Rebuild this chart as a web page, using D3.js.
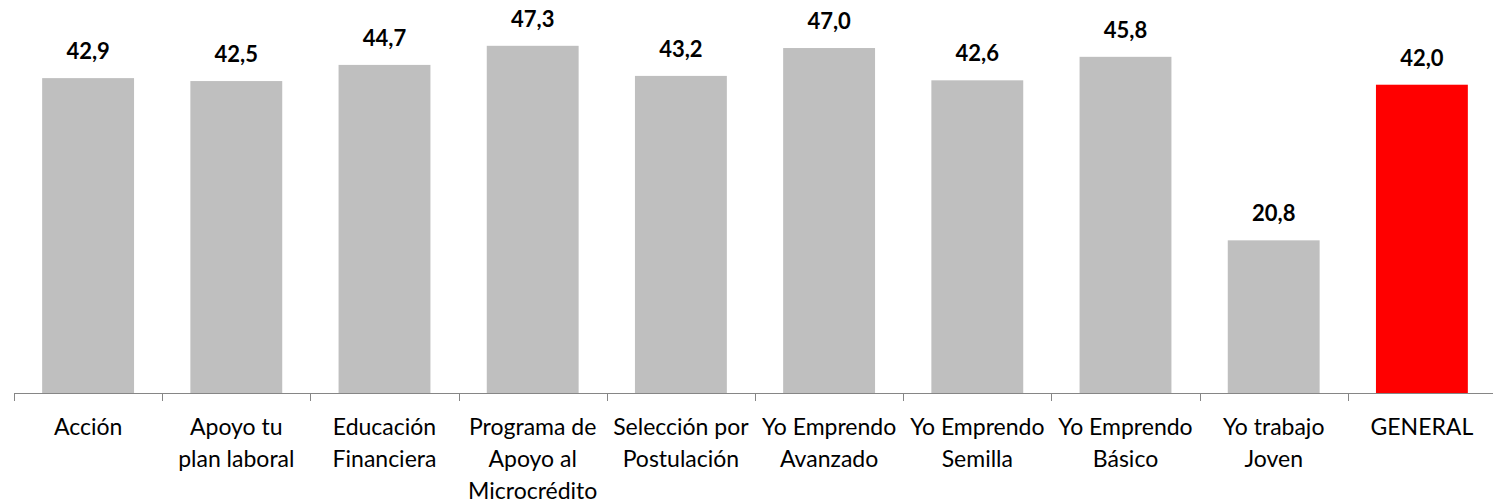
<!DOCTYPE html>
<html>
<head>
<meta charset="utf-8">
<script src="https://cdn.jsdelivr.net/npm/d3@7"></script>
<style>
  body { margin: 0; background: #fff; }
  svg { display: block; font-family: Lato, "Open Sans", sans-serif; }
</style>
</head>
<body>
<div id="chart"></div>
<script>
// data
const categories = ["Acción", "Apoyo tu plan laboral", "Educación Financiera",
  "Programa de Apoyo al Microcrédito", "Selección por Postulación",
  "Yo Emprendo Avanzado", "Yo Emprendo Semilla", "Yo Emprendo Básico",
  "Yo trabajo Joven", "GENERAL"];
const labelLines = [["Acción"], ["Apoyo tu", "plan laboral"], ["Educación", "Financiera"],
  ["Programa de", "Apoyo al", "Microcrédito"], ["Selección por", "Postulación"],
  ["Yo Emprendo", "Avanzado"], ["Yo Emprendo", "Semilla"], ["Yo Emprendo", "Básico"],
  ["Yo trabajo", "Joven"], ["GENERAL"]];
const values = [42.9, 42.5, 44.7, 47.3, 43.2, 47.0, 42.6, 45.8, 20.8, 42.0];
const highlight = "GENERAL";

const width = 1493, height = 504;
const baseY = 393;

const svg = d3.select("#chart").append("svg")
  .attr("width", width)
  .attr("height", height);

const x = d3.scaleBand()
  .domain(categories)
  .range([14, 1496])
  .paddingInner(0.38)
  .paddingOuter(0.19);

const y = d3.scaleLinear()
  .domain([0, 50])
  .range([baseY, 26]);

const fmt = d => d.toFixed(1).replace(".", ",");

svg.append("g")
  .selectAll("rect")
  .data(categories)
  .join("rect")
    .attr("x", d => x(d))
    .attr("width", x.bandwidth())
    .attr("y", (d, i) => y(values[i]))
    .attr("height", (d, i) => y(0) - y(values[i]))
    .attr("fill", d => d === highlight ? "#ff0000" : "#bfbfbf");

svg.append("g")
  .selectAll("text")
  .data(categories)
  .join("text")
    .attr("x", d => x(d) + x.bandwidth() / 2)
    .attr("y", (d, i) => y(values[i]) - 19)
    .attr("text-anchor", "middle")
    .attr("font-size", 22)
    .attr("font-weight", "bold")
    .attr("fill", "#000")
    .text((d, i) => fmt(values[i]));

// axis line with ticks between categories
const step = x.step();
const axis = svg.append("g").attr("stroke", "#868686").attr("stroke-width", 1);
axis.append("line")
  .attr("x1", 14).attr("x2", width)
  .attr("y1", baseY + 0.5).attr("y2", baseY + 0.5);
d3.range(categories.length + 1).forEach(i => {
  const tx = Math.round(14 + i * step) + 0.5;
  axis.append("line")
    .attr("x1", tx).attr("x2", tx)
    .attr("y1", baseY).attr("y2", baseY + 8);
});

const labels = svg.append("g")
  .selectAll("text")
  .data(categories)
  .join("text")
    .attr("text-anchor", "middle")
    .attr("font-size", 23)
    .attr("fill", "#000");
labels.each(function(d, i) {
  const cx = x(d) + x.bandwidth() / 2;
  d3.select(this).selectAll("tspan")
    .data(labelLines[i])
    .join("tspan")
      .attr("x", cx)
      .attr("y", (t, j) => 435 + j * 32)
      .text(t => t);
});
</script>
</body>
</html>
